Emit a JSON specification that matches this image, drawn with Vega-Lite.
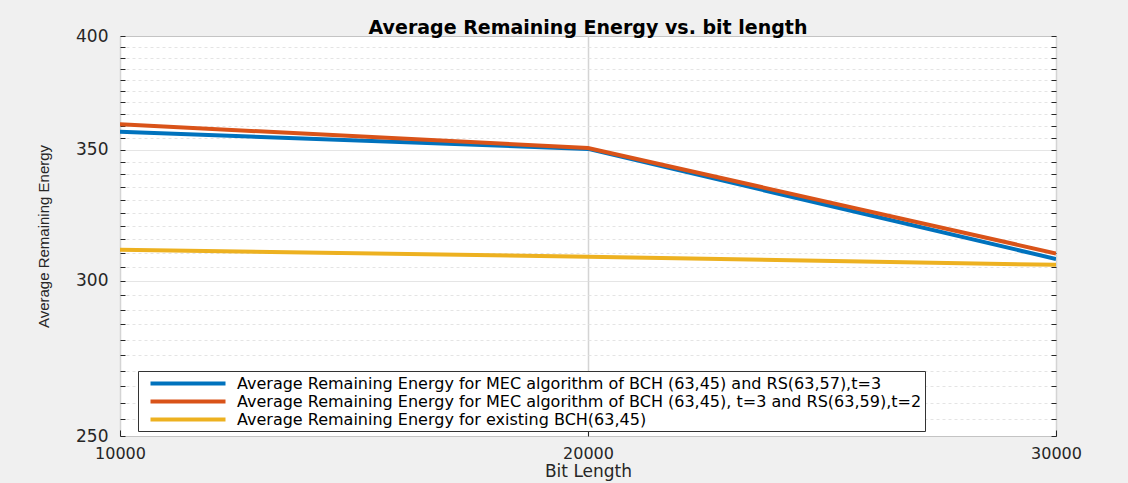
{
  "$schema": "https://vega.github.io/schema/vega-lite/v6.json",
  "width": 936,
  "height": 400,
  "autosize": {"type": "none"},
  "padding": {"left": 120, "top": 36, "right": 72, "bottom": 47},
  "background": "#f0f0f0",
  "title": {"text": "Average Remaining Energy vs. bit length", "font": "DejaVu Sans", "fontSize": 19, "fontWeight": "bold", "color": "#000000", "offset": -11, "anchor": "middle"},
  "config": {
    "view": {"fill": "white", "stroke": "#7a7a7a", "strokeWidth": 1},
    "axis": {"domain": false, "labelFont": "DejaVu Sans", "labelFontSize": 17, "labelColor": "#262626", "titleColor": "#262626", "tickColor": "#262626"}
  },
  "data": {
    "values": [
      {"bits": 10000, "energy": 357.4, "series": "Average Remaining Energy for MEC algorithm of BCH (63,45) and RS(63,57),t=3"},
      {"bits": 20000, "energy": 350.3, "series": "Average Remaining Energy for MEC algorithm of BCH (63,45) and RS(63,57),t=3"},
      {"bits": 30000, "energy": 307.8, "series": "Average Remaining Energy for MEC algorithm of BCH (63,45) and RS(63,57),t=3"},
      {"bits": 10000, "energy": 360.6, "series": "Average Remaining Energy for MEC algorithm of BCH (63,45), t=3 and RS(63,59),t=2"},
      {"bits": 20000, "energy": 350.7, "series": "Average Remaining Energy for MEC algorithm of BCH (63,45), t=3 and RS(63,59),t=2"},
      {"bits": 30000, "energy": 309.8, "series": "Average Remaining Energy for MEC algorithm of BCH (63,45), t=3 and RS(63,59),t=2"},
      {"bits": 10000, "energy": 311.2, "series": "Average Remaining Energy for existing BCH(63,45)"},
      {"bits": 20000, "energy": 308.6, "series": "Average Remaining Energy for existing BCH(63,45)"},
      {"bits": 30000, "energy": 305.7, "series": "Average Remaining Energy for existing BCH(63,45)"}
    ]
  },
  "layer": [
    {
      "mark": {"type": "line", "clip": true},
      "encoding": {
        "x": {"field": "bits", "type": "quantitative", "scale": {"domain": [10000, 30000], "nice": false, "zero": false},
          "axis": {"values": [10000, 20000, 30000], "format": "d", "title": "Bit Length", "titleFont": "DejaVu Sans", "titleFontSize": 17, "titleFontWeight": "normal", "titlePadding": 2, "labelFontSize": 16, "labelPadding": 15, "tickSize": -6, "grid": true, "gridColor": "#d4d4d4", "gridWidth": 1.5, "labelFlush": false}},
        "y": {"field": "energy", "type": "quantitative", "scale": {"type": "log", "domain": [250, 400], "nice": false, "zero": false},
          "axis": {"values": [250,255,260,265,270,275,280,285,290,295,300,305,310,315,320,325,330,335,340,345,350,355,360,365,370,375,380,385,390,395,400],
            "format": "d", "labelExpr": "datum.value % 50 == 0 ? datum.label : ''",
            "title": "Average Remaining Energy", "titleFont": "Liberation Sans", "titleFontSize": 15, "titleFontWeight": "normal", "titlePadding": 24,
            "labelPadding": 17,
            "tickSize": -5,
            "grid": true,
            "gridDash": {"condition": {"test": "datum.value % 50 == 0", "value": [1, 0]}, "value": [3, 3]},
            "gridColor": {"condition": {"test": "datum.value % 50 == 0", "value": "#dcdcdc"}, "value": "#e4e4e4"},
            "labelFlush": false}},
        "color": {"field": "series", "type": "nominal",
          "scale": {"domain": ["Average Remaining Energy for MEC algorithm of BCH (63,45) and RS(63,57),t=3", "Average Remaining Energy for MEC algorithm of BCH (63,45), t=3 and RS(63,59),t=2", "Average Remaining Energy for existing BCH(63,45)"], "range": ["#0072BD", "#D95319", "#EDB120"]},
          "legend": {"orient": "none", "legendX": 18, "legendY": 335, "title": null, "fillColor": "white", "strokeColor": "#333333", "padding": 3, "symbolType": "M0,0H10", "symbolSize": 225, "symbolStrokeWidth": 4, "labelOffset": 77, "labelFont": "DejaVu Sans", "labelFontSize": 16, "labelColor": "#000000", "labelLimit": 1200, "rowPadding": -4, "cornerRadius": 0,
            "encode": {"symbols": {"update": {"strokeWidth": {"signal": "indexof(datum.value, 'existing') >= 0 ? 2 : 4"}}}}}},
        "strokeWidth": {"field": "series", "type": "nominal", "scale": {"domain": ["Average Remaining Energy for MEC algorithm of BCH (63,45) and RS(63,57),t=3", "Average Remaining Energy for MEC algorithm of BCH (63,45), t=3 and RS(63,59),t=2", "Average Remaining Energy for existing BCH(63,45)"], "range": [4, 4, 2]}, "legend": null}
      }
    },
    {
      "mark": {"type": "point", "opacity": 0},
      "encoding": {
        "x": {"field": "bits", "type": "quantitative"},
        "y": {"field": "energy", "type": "quantitative",
          "axis": {"orient": "right", "values": [250,255,260,265,270,275,280,285,290,295,300,305,310,315,320,325,330,335,340,345,350,355,360,365,370,375,380,385,390,395,400], "labels": false, "title": null, "grid": false,
            "tickSize": -5}}
      }
    }
  ],
  "resolve": {"axis": {"y": "independent"}}
}
